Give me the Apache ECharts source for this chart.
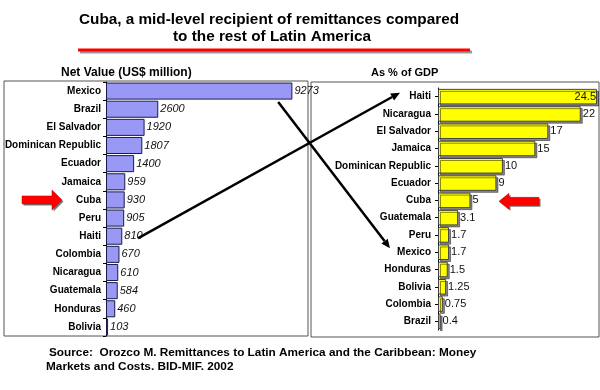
<!DOCTYPE html>
<html><head><meta charset="utf-8">
<script src="https://cdn.jsdelivr.net/npm/echarts@6/dist/echarts.min.js"></script>
<style>html,body{margin:0;padding:0;background:#fff}#c{width:600px;height:390px}</style>
</head><body><div id="c"></div>
<script>
const leftCategories = ['Mexico','Brazil','El Salvador','Dominican Republic','Ecuador','Jamaica','Cuba','Peru','Haiti','Colombia','Nicaragua','Guatemala','Honduras','Bolivia'];
const leftValues = [9273,2600,1920,1807,1400,959,930,905,810,670,610,584,460,103];
const rightCategories = ['Haiti','Nicaragua','El Salvador','Jamaica','Dominican Republic','Ecuador','Cuba','Guatemala','Peru','Mexico','Honduras','Bolivia','Colombia','Brazil'];
const rightValues = [24.5,22,17,15,10,9,5,3.1,1.7,1.7,1.5,1.25,0.75,0.4];

const chart = echarts.init(document.getElementById('c'), null, {renderer:'canvas'});
const narrow = "'Liberation Sans Narrow','Arial Narrow','Liberation Sans',sans-serif";
const T = (text,left,top,size)=>({text,left,top,padding:0,textStyle:{fontFamily:'Liberation Sans',fontSize:size,fontWeight:'bold',color:'#000'}});
const option = {
  animation:false,
  backgroundColor:'#fff',
  title:[
    T('Cuba, a mid-level recipient of remittances compared',79,12,15.3),
    T('to the rest of Latin America',173,29,15.3),
    T('Net Value (US$ million)',61,67,12),
    T('As % of GDP',371,67,11),
    T('Source:  Orozco M. Remittances to Latin America and the Caribbean: Money',49,347,11.8),
    T('Markets and Costs. BID-MIF. 2002',46,361,11.8)
  ],
  grid:[
    {left:106, top:82, width:201, height:254, outerBoundsMode:'none', containLabel:false},
    {left:438, top:88, width:159, height:242, outerBoundsMode:'none', containLabel:false}
  ],
  xAxis:[
    {gridIndex:0, type:'value', min:0, max:10000, show:false},
    {gridIndex:1, type:'value', min:0, max:24.5, show:false}
  ],
  yAxis:[
    {gridIndex:0, type:'category', data:leftCategories, inverse:true,
     axisLine:{lineStyle:{color:'#000',width:1}}, axisTick:{show:true,length:3,lineStyle:{color:'#000'}},
     axisLabel:{fontFamily:narrow,fontSize:10,fontWeight:'bold',color:'#000',margin:5}},
    {gridIndex:1, type:'category', data:rightCategories, inverse:true,
     axisLine:{lineStyle:{color:'#000',width:1}}, axisTick:{show:true,length:3,alignWithLabel:true,lineStyle:{color:'#000'}},
     axisLabel:{fontFamily:narrow,fontSize:10,fontWeight:'bold',color:'#000',margin:7}}
  ],
  series:[
    {type:'bar', xAxisIndex:0, yAxisIndex:0, data:leftValues, barCategoryGap:'6%',
     itemStyle:{color:'#9999f5',borderColor:'#1a1a4a',borderWidth:1},
     label:{show:true,position:'right',distance:2,fontFamily:narrow,fontStyle:'italic',fontSize:11,color:'#111'}},
    {type:'bar', xAxisIndex:1, yAxisIndex:1, data:rightValues.map((v,i)=>i===0?{value:v,label:{position:'insideRight',distance:1}}:v), barCategoryGap:'10%',
     itemStyle:{color:'#ffff00',borderColor:'#444',borderWidth:1,shadowColor:'rgba(0,0,0,0.45)',shadowOffsetX:2,shadowOffsetY:2},
     label:{show:true,position:'right',distance:2,fontFamily:'Liberation Sans',fontSize:11,color:'#111'}}
  ]
};
chart.setOption(option);

function px(grid, val, cat){ return chart.convertToPixel({gridIndex:grid},[val,cat]); }
const g = [];
g.push({type:'rect',shape:{x:4,y:81,width:304,height:255},style:{fill:null,stroke:'#555',lineWidth:1},z:-1});
g.push({type:'rect',shape:{x:311,y:82,width:288,height:255},style:{fill:null,stroke:'#555',lineWidth:1},z:-1});
g.push({type:'line',shape:{x1:80,y1:52,x2:472,y2:52},style:{stroke:'#999',lineWidth:3}});
g.push({type:'line',shape:{x1:78,y1:50,x2:470,y2:50},style:{stroke:'#ff0000',lineWidth:3}});
function arrow(p1,p2){
  const ang=Math.atan2(p2[1]-p1[1],p2[0]-p1[0]);
  const L=9,W=4;
  const bx=p2[0]-L*Math.cos(ang), by=p2[1]-L*Math.sin(ang);
  g.push({type:'line',shape:{x1:p1[0],y1:p1[1],x2:bx,y2:by},style:{stroke:'#000',lineWidth:2.5},z:100});
  g.push({type:'polygon',shape:{points:[[p2[0],p2[1]],[bx-W*Math.sin(ang),by+W*Math.cos(ang)],[bx+W*Math.sin(ang),by-W*Math.cos(ang)]]},style:{fill:'#000'},z:100});
}
const mexL = px(0, leftValues[0]*0.94, 'Mexico');
const mexR = px(1, 0, 'Mexico');
arrow([mexL[0]-3, mexL[1]+11], [mexR[0]-48, mexR[1]-4]);
const haiL = px(0, leftValues[8], 'Haiti');
const haiR = px(1, 0, 'Haiti');
arrow([haiL[0]+16, haiL[1]+2], [haiR[0]-38, haiR[1]-4]);
function block(cx,cy,dir){
  const w=40,h=14,hw=10,hh=10;
  let pts;
  if(dir>0){ pts=[[cx-w/2,cy-h/2+3],[cx+w/2-hw,cy-h/2+3],[cx+w/2-hw,cy-hh],[cx+w/2,cy],[cx+w/2-hw,cy+hh],[cx+w/2-hw,cy+h/2-3],[cx-w/2,cy+h/2-3]]; }
  else { pts=[[cx+w/2,cy-h/2+3],[cx-w/2+hw,cy-h/2+3],[cx-w/2+hw,cy-hh+2],[cx-w/2,cy],[cx-w/2+hw,cy+hh-2],[cx-w/2+hw,cy+h/2-3],[cx+w/2,cy+h/2-3]]; }
  g.push({type:'polygon',shape:{points:pts.map(p=>[p[0]+1.5,p[1]+1.5])},style:{fill:'#777'},z:90});
  g.push({type:'polygon',shape:{points:pts},style:{fill:'#ff0000',stroke:'#b00',lineWidth:0.5},z:91});
}
const cubaL = px(0, 0, 'Cuba');
block(42, cubaL[1], 1);
const cubaR = px(1, 0, 'Cuba');
block(cubaR[0]+81, cubaR[1]+1, -1);
chart.setOption({graphic:g});
</script></body></html>
